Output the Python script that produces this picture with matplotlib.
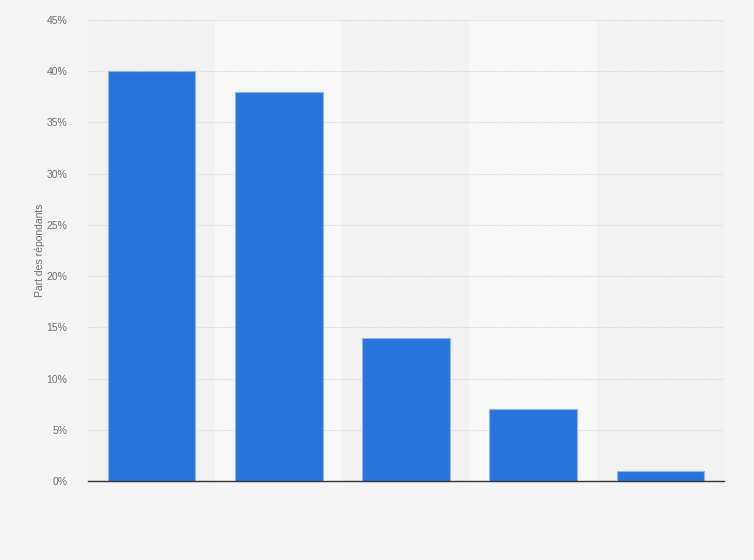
import matplotlib.pyplot as plt
import numpy as np

plt.rcParams['font.family'] = ['Liberation Sans', 'DejaVu Sans']

categories = ["A", "B", "C", "D", "E"]
values = [40, 38, 14, 7, 1]
yticks = [0, 5, 10, 15, 20, 25, 30, 35, 40, 45]

fig = plt.figure(figsize=(7.54, 5.6), dpi=100)
fig.patch.set_facecolor("#f4f4f4")
ax = fig.add_axes([88/754, 79/560, 636/754, 461/560])
ax.set_facecolor("#f2f2f2")

x = np.arange(len(categories))
# alternating column bands
for i in x:
    if i % 2 == 1:
        ax.axvspan(i - 0.5, i + 0.5, color="#f8f8f8", zorder=0, lw=0)

ax.bar(x, values, width=0.69, color="#2775db", edgecolor="#8fb8ee", linewidth=0.8, zorder=3)

ax.set_xlim(-0.5, len(categories) - 0.5)
ax.set_ylim(0, 45)
ax.set_yticks(yticks)
ax.set_yticklabels([f"{t}%" for t in yticks], fontsize=7.5, color="#707070")
ax.set_xticks([])
ax.tick_params(axis="y", length=0, pad=15)
ax.yaxis.grid(True, color="#d6d6d6", linestyle=(0, (1, 1)), linewidth=0.8, zorder=1)

for s in ["top", "right", "left"]:
    ax.spines[s].set_visible(False)
ax.spines["bottom"].set_color("#333333")
ax.spines["bottom"].set_linewidth(1)
ax.spines["bottom"].set_zorder(4)

fig.text(40/754, 1 - 250/560, "Part des répondants", rotation=90, fontsize=7.5,
         color="#707070", ha="center", va="center")

fig.savefig("out.png", dpi=100, facecolor=fig.get_facecolor())
